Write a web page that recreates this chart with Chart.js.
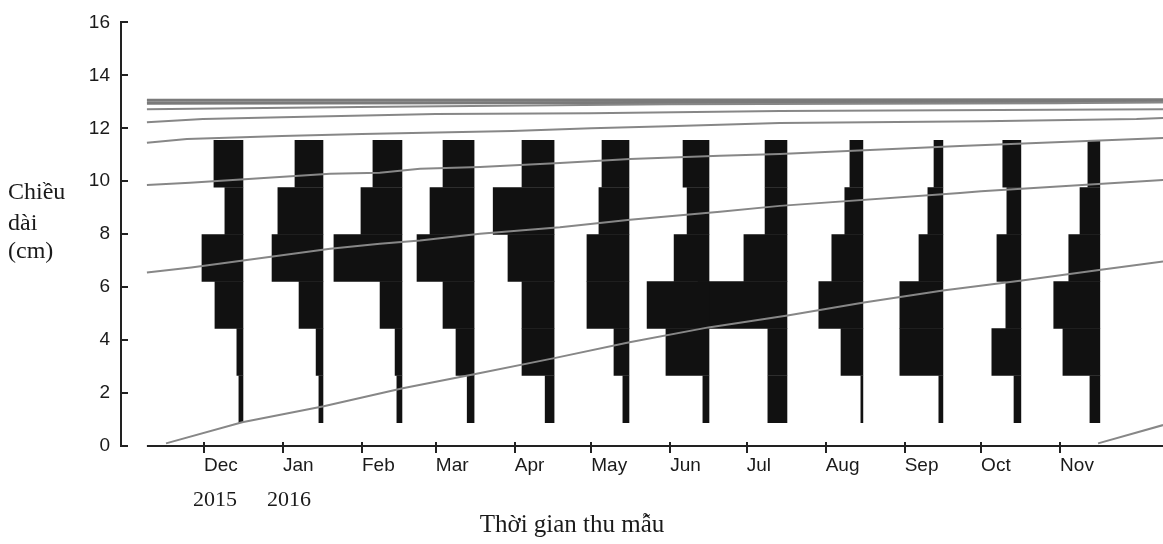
<!DOCTYPE html>
<html>
<head>
<meta charset="utf-8">
<script src="https://cdn.jsdelivr.net/npm/chart.js@4.4.1/dist/chart.umd.min.js"></script>
<style>
  html, body { margin: 0; padding: 0; background: #ffffff; }
  canvas { display: block; }
</style>
</head>
<body>
<canvas id="c" width="1163" height="544"></canvas>
<script>
// ---------- DATA ----------
// x axis: days since 1 Dec 2015
const monthLabels  = ['Dec','Jan','Feb','Mar','Apr','May','Jun','Jul','Aug','Sep','Oct','Nov'];
const monthTickDay = [0, 31, 62, 91, 122, 152, 183, 213, 244, 275, 305, 336];
const yearLabels   = ['2015', '2016'];
const yTickValues  = [0, 2, 4, 6, 8, 10, 12, 14, 16];

// length classes (cm), mid-points, bottom -> top
const lengthClassMid = [1.77, 3.55, 5.33, 7.10, 8.88, 10.66];

// sampling day of each monthly sample (right edge of each histogram)
const sampleDay = [15.3, 46.7, 77.7, 106.0, 137.4, 166.8, 198.2, 228.8, 258.6, 290.0, 320.6, 351.6];

// restructured frequencies per length class (bar length, in x-axis units), bottom -> top
const freqDec = [1.6, 2.4, 11.0, 16.1,  7.1, 11.4];
const freqJan = [1.6, 2.7,  9.4, 20.0, 17.7, 11.0];
const freqFeb = [2.0, 2.7,  8.6, 26.7, 16.1, 11.4];
const freqMar = [2.7, 7.1, 12.2, 22.4, 17.3, 12.2];
const freqApr = [3.5, 12.6, 12.6, 18.1, 23.9, 12.6];
const freqMay = [2.4, 5.9, 16.5, 16.5, 11.8, 10.6];
const freqJun = [2.4, 16.9, 24.3, 13.7,  8.6, 10.2];
const freqJul = [7.5, 7.5, 34.9, 16.9,  8.6,  8.6];
const freqAug = [0.8, 8.6, 17.3, 12.2,  7.1,  5.1];
const freqSep = [1.6, 16.9, 16.9,  9.4,  5.9,  3.5];
const freqOct = [2.7, 11.4,  5.9,  9.4,  5.5,  7.1];
const freqNov = [3.9, 14.5, 18.1, 12.2,  7.8,  4.7];
const monthFreqs = [freqDec, freqJan, freqFeb, freqMar, freqApr, freqMay,
                    freqJun, freqJul, freqAug, freqSep, freqOct, freqNov];

// growth curves: [day, length cm]
const growthA  = [[-14.9,0.1],[15,0.9],[47,1.5],[78,2.18],[106,2.71],[137,3.31],[167,3.92],[198,4.48],[229,4.93],[259,5.42],[290,5.87],[321,6.25],[352,6.66],[376.4,6.97]];
const growthA2 = [[350.9,0.1],[376.4,0.79]];
const growthB  = [[-22.4,6.55],[-5,6.74],[49.5,7.45],[69,7.64],[84.8,7.76],[108.3,8.02],[139.7,8.26],[167.2,8.55],[202.5,8.85],[226,9.07],[296.7,9.56],[305,9.62],[376.4,10.05]];
const growthC  = [[-22.4,9.86],[-5.5,9.94],[49.5,10.28],[69,10.32],[84.8,10.47],[108.3,10.54],[139.7,10.69],[167.2,10.84],[202.5,10.96],[226,11.03],[296.7,11.33],[376.4,11.63]];
const growthD  = [[-22.4,11.45],[-6.7,11.6],[30.6,11.71],[62,11.78],[121,11.9],[152,12.0],[182,12.08],[226,12.2],[306,12.27],[366,12.35],[376.4,12.39]];
const growthE  = [[-22.4,12.23],[-0.4,12.35],[30.6,12.42],[91,12.54],[151.5,12.57],[226,12.65],[376.4,12.72]];
const growthF  = [[-22.4,12.72],[61,12.8],[182,12.91],[335,12.95],[376.4,12.98]];
const growthG1 = [[-22.4,12.95],[376.4,13.0]];
const growthG2 = [[-22.4,13.06],[376.4,13.08]];
const growthCurves = [growthA, growthA2, growthB, growthC, growthD, growthE, growthF, growthG1, growthG2];

const xAxisStartDay = -22.4;
const xTitle = 'Thời gian thu mẫu';
const yTitleLines = ['Chiều', 'dài', '(cm)'];

// ---------- CHART ----------
const SANS = '"Liberation Sans", Arial, sans-serif';
const SERIF = '"Liberation Serif", "Times New Roman", serif';
const INK = '#1a1a1a';

const datasets = [];
monthFreqs.forEach((freq, i) => {
  datasets.push({
    type: 'bar',
    indexAxis: 'y',
    label: monthLabels[i],
    data: lengthClassMid.map((m, k) => ({ y: m, x: [sampleDay[i] - freq[k], sampleDay[i]] })),
    backgroundColor: '#111111',
    borderWidth: 0,
    grouped: false,
    barPercentage: 1,
    categoryPercentage: 1,
    order: 1
  });
});
growthCurves.forEach((curve) => {
  const isTop = (curve === growthG1 || curve === growthG2);
  datasets.push({
    type: 'line',
    indexAxis: 'x',
    data: curve.map(([d, l]) => ({ x: d, y: l })),
    borderColor: isTop ? '#7a7a7a' : '#878787',
    borderWidth: isTop ? 3 : 2,
    pointRadius: 0,
    fill: false,
    tension: 0,
    order: 0
  });
});

const decor = {
  id: 'decor',
  afterDraw(chart) {
    const { ctx, chartArea, scales } = chart;
    const x = scales.x, y = scales.y;
    ctx.save();
    ctx.strokeStyle = '#222';
    ctx.lineWidth = 2;
    // x axis line (starts a little right of the y axis)
    const y0 = y.getPixelForValue(0);
    ctx.beginPath();
    ctx.moveTo(x.getPixelForValue(xAxisStartDay), y0);
    ctx.lineTo(chartArea.right, y0);
    ctx.stroke();
    // inward y ticks
    y.ticks.forEach(t => {
      const py = Math.round(y.getPixelForValue(t.value));
      ctx.beginPath();
      ctx.moveTo(chartArea.left, py);
      ctx.lineTo(chartArea.left + 7, py);
      ctx.stroke();
    });
    // upper part of x ticks
    x.ticks.forEach(t => {
      const px = Math.round(x.getPixelForValue(t.value));
      ctx.beginPath();
      ctx.moveTo(px, y0 - 4);
      ctx.lineTo(px, y0);
      ctx.stroke();
    });
    // year labels under Dec / Jan
    ctx.fillStyle = INK;
    ctx.font = '22px ' + SERIF;
    ctx.textAlign = 'center';
    ctx.textBaseline = 'middle';
    const yearOffsets = [11, 6];
    yearLabels.forEach((txt, i) => {
      ctx.fillText(txt, x.getPixelForValue(monthTickDay[i]) + yearOffsets[i], 500);
    });
    // x title
    ctx.font = '25px ' + SERIF;
    ctx.fillText(xTitle, 572, 525);
    // y title (three lines)
    ctx.font = '24px ' + SERIF;
    ctx.textAlign = 'left';
    const yLineY = [193, 224, 252];
    yTitleLines.forEach((s, i) => ctx.fillText(s, 8, yLineY[i]));
    ctx.restore();
  }
};

new Chart(document.getElementById('c'), {
  type: 'bar',
  data: { datasets },
  options: {
    indexAxis: 'y',
    responsive: false,
    maintainAspectRatio: false,
    animation: false,
    layout: { padding: { top: 21, right: 0, bottom: 0, left: 0 } },
    plugins: { legend: { display: false }, tooltip: { enabled: false } },
    scales: {
      x: {
        type: 'linear',
        min: -32.57,
        max: 376.38,
        offset: false,
        grid: { display: true, offset: false, drawOnChartArea: false, drawTicks: true, tickLength: 7, color: '#222', lineWidth: 2 },
        border: { display: false },
        afterBuildTicks: (scale) => { scale.ticks = monthTickDay.map(v => ({ value: v })); },
        afterFit: (scale) => { scale.height = 98; },
        ticks: {
          autoSkip: false,
          maxRotation: 0,
          minRotation: 0,
          align: 'start',
          padding: 1,
          color: INK,
          font: { family: SANS, size: 19 },
          callback: (v, i) => monthLabels[i]
        }
      },
      y: {
        type: 'linear',
        min: 0,
        max: 16,
        offset: false,
        grid: { display: false, offset: false, drawTicks: false },
        border: { display: true, color: '#222', width: 2 },
        afterBuildTicks: (scale) => { scale.ticks = yTickValues.map(v => ({ value: v })); },
        afterFit: (scale) => { scale.width = 121; },
        ticks: {
          padding: 11,
          color: INK,
          font: { family: SANS, size: 19 }
        }
      }
    }
  },
  plugins: [decor]
});
</script>
</body>
</html>
